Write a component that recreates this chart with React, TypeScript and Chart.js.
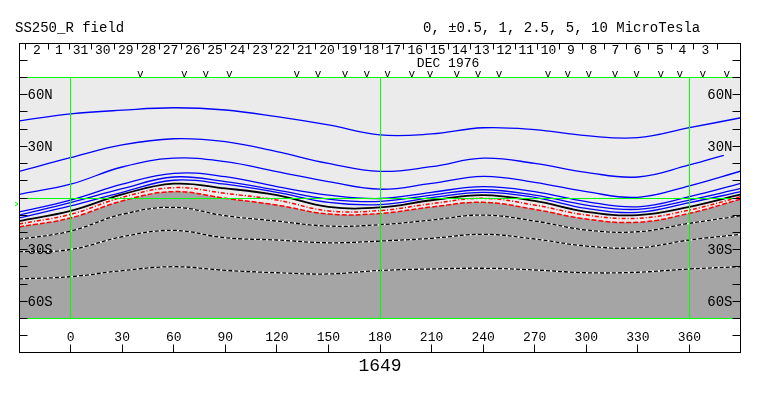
import React, { useEffect, useRef } from 'react';
import { Chart, registerables } from 'chart.js';

Chart.register(...registerables);

// Carrington longitude samples (deg)
const LONS = [-30, 0, 30, 60, 90, 120, 150, 180, 210, 240, 270, 300, 330, 360, 390];
const B2_LONS = [-30, 0, 30, 60, 90, 120, 150, 180, 210, 240, 270, 300, 330, 360, 380];

// Positive contours (blue), latitude in degrees
const B1 = [44.8, 48.8, 51.0, 52.4, 51.1, 47.2, 42.4, 36.6, 37.2, 40.8, 39.7, 36.2, 35.0, 40.8, 46.6];
const B2 = [15.5, 23.4, 30.8, 34.4, 32.7, 26.9, 20.1, 15.5, 18.2, 23.1, 20.1, 14.9, 12.2, 19.2, 24.8];
const B3 = [2.1, 8.0, 18.0, 23.1, 21.1, 15.3, 9.5, 5.1, 8.5, 12.6, 9.1, 3.7, 0.4, 7.1, 15.7];
const B4 = [-8.1, -1.2, 8.0, 14.3, 12.4, 6.6, 1.7, -0.3, 3.3, 6.6, 3.7, -2.1, -5.1, 0.8, 8.5];
const B5 = [-9.9, -2.7, 5.4, 12.2, 9.5, 4.6, -0.6, -2.0, 1.7, 4.8, 1.7, -4.1, -6.6, -1.2, 5.6];
const B6 = [-11.6, -4.6, 3.3, 10.3, 8.0, 3.3, -2.5, -3.8, 0.2, 3.3, 0.4, -6.0, -8.3, -2.7, 3.7];
// Neutral line (black)
const NEUTRAL = [-13.4, -7.5, 2.1, 8.3, 5.6, 1.7, -5.1, -5.5, -1.3, 1.7, -1.7, -8.0, -9.9, -5.1, 2.1];
// Weak negative contours (red)
const R1 = [-15.1, -9.5, 0.4, 6.0, 2.7, -1.2, -7.5, -7.3, -3.3, -0.2, -4.1, -9.9, -11.8, -7.0, 0.8];
const R2 = [-16.8, -11.6, -1.7, 3.7, -0.2, -4.1, -9.3, -9.0, -5.2, -2.5, -6.6, -12.2, -14.1, -8.9, -0.6];
// Stronger negative contours (black/white dashed)
const D1 = [-24.0, -19.2, -9.5, -5.4, -10.3, -13.4, -16.3, -15.5, -12.8, -9.9, -13.4, -18.6, -19.6, -14.7, -10.3];
const D2 = [-31.2, -29.9, -22.5, -18.8, -23.1, -24.4, -26.0, -25.0, -23.4, -21.1, -23.8, -27.9, -28.9, -24.4, -21.1];
const D3 = [-47.0, -45.7, -42.2, -39.9, -42.0, -43.4, -44.1, -42.1, -41.2, -40.8, -41.8, -43.4, -43.1, -41.2, -39.9];

// Axis ticks / labels
const LAT_TICKS = [-80, -70, -60, -50, -40, -30, -20, -10, 0, 10, 20, 30, 40, 50, 60, 70, 80];
const LAT_LABELS: [number, string][] = [[60, '60N'], [30, '30N'], [-30, '30S'], [-60, '60S']];
const LON_TICKS = [0, 30, 60, 90, 120, 150, 180, 210, 240, 270, 300, 330, 360];
const GREEN_LONS = [0, 180, 360];
const GREEN_LATS = [70, 0, -70];
const DAY_TICKS = [-26.3, -13.4, -0.8, 11.9, 25.0, 38.6, 51.4, 64.4, 77.3, 90.1, 103.5, 116.5, 129.3, 142.3, 155.6, 168.4,
  181.2, 193.6, 206.8, 219.8, 232.4, 245.6, 258.5, 271.2, 284.3, 297.3, 310.3, 323.1, 336.0, 349.1, 362.2, 375.8];
const DAY_LABELS = ['2', '1', '31', '30', '29', '28', '27', '26', '25', '24', '23', '22', '21', '20', '19', '18', '17',
  '16', '15', '14', '13', '12', '11', '10', '9', '8', '7', '6', '5', '4', '3'];
const OBS_MARKS = [40.5, 66.1, 78.7, 92.3, 131.6, 144.0, 159.7, 172.3, 184.4, 198.5, 209.1, 224.7, 237.0, 249.2,
  277.7, 289.3, 301.5, 316.7, 329.3, 343.4, 354.4, 367.8, 381.8];
const MONTH_LABEL = 'DEC 1976';
const MONTH_LON = 219.6;
const EARTH_LAT = -3.5;
const ROTATION = '1649';
const TITLE = 'SS250_R field';
const LEVELS = '0, \u00b10.5, 1, 2.5, 5, 10 MicroTesla';

const FONT = "'Liberation Mono', 'DejaVu Sans Mono', monospace";

const pts = (lons: number[], lats: number[]) => lons.map((x, i) => ({ x, y: lats[i] }));

export default function App() {
  const ref = useRef<HTMLCanvasElement>(null);

  useEffect(() => {
    const canvas = ref.current!;
    const line = (data: any, color: string, width: number, dash: number[], order: number) => ({
      data,
      borderColor: color,
      borderWidth: width,
      borderDash: dash,
      pointRadius: 0,
      fill: false,
      order,
    });

    const datasets: any[] = [
      {
        data: pts(LONS, R2),
        borderWidth: 0,
        borderColor: 'rgba(0,0,0,0)',
        backgroundColor: '#a5a5a5',
        fill: { value: -70 },
        pointRadius: 0,
        order: 100,
      },
      line(pts(LONS, B1), '#0000ff', 1.3, [], 10),
      line(pts(B2_LONS, B2), '#0000ff', 1.3, [], 10),
      line(pts(LONS, B3), '#0000ff', 1.3, [], 10),
      line(pts(LONS, B4), '#0000ff', 1.3, [], 10),
      line(pts(LONS, B5), '#0000ff', 1.3, [], 10),
      line(pts(LONS, B6), '#0000ff', 1.3, [], 10),
      line(pts(LONS, NEUTRAL), '#000000', 1.8, [], 5),
      line(pts(LONS, R1), '#ff0000', 1.5, [4, 2, 1, 2], 6),
      line(pts(LONS, R2), '#ff0000', 1.5, [5, 2], 6),
      line(pts(LONS, D1), '#ffffff', 1.3, [], 20),
      line(pts(LONS, D2), '#ffffff', 1.3, [], 20),
      line(pts(LONS, D3), '#ffffff', 1.3, [], 20),
      line(pts(LONS, D1), '#000000', 1.3, [4, 2], 8),
      line(pts(LONS, D2), '#000000', 1.3, [4, 2], 8),
      line(pts(LONS, D3), '#000000', 1.3, [4, 2], 8),
    ];

    const mapPlugin = {
      id: 'mapDecor',
      beforeDraw(chart: any) {
        const { ctx } = chart;
        const xs = chart.scales.x, ys = chart.scales.y;
        ctx.save();
        ctx.fillStyle = '#ebebeb';
        const x0 = xs.getPixelForValue(-30), x1 = xs.getPixelForValue(390);
        const y0 = ys.getPixelForValue(70), y1 = ys.getPixelForValue(-70);
        ctx.fillRect(x0, y0, x1 - x0, y1 - y0);
        ctx.restore();
      },
      afterDatasetsDraw(chart: any) {
        const { ctx } = chart;
        const xs = chart.scales.x, ys = chart.scales.y;
        ctx.save();
        ctx.strokeStyle = '#00ff00';
        ctx.lineWidth = 1;
        const xl = xs.getPixelForValue(-30), xr = xs.getPixelForValue(390);
        GREEN_LATS.forEach((lat) => {
          const y = Math.floor(ys.getPixelForValue(lat)) + 0.5;
          ctx.beginPath(); ctx.moveTo(xl, y); ctx.lineTo(xr, y); ctx.stroke();
        });
        const yt = ys.getPixelForValue(70), yb = ys.getPixelForValue(-70);
        GREEN_LONS.forEach((lon) => {
          const x = Math.floor(xs.getPixelForValue(lon)) + 0.5;
          ctx.beginPath(); ctx.moveTo(x, yt); ctx.lineTo(x, yb); ctx.stroke();
        });
        ctx.restore();
      },
      afterDraw(chart: any) {
        const { ctx } = chart;
        const xs = chart.scales.x, ys = chart.scales.y;
        const X = (v: number) => xs.getPixelForValue(v);
        const Y = (v: number) => ys.getPixelForValue(v);
        const L = Math.round(X(-30)) + 0.5, R = Math.round(X(390)) - 0.5;
        const T = Math.round(Y(90)) + 0.5, B = Math.round(Y(-90)) - 0.5;
        ctx.save();
        ctx.strokeStyle = '#000';
        ctx.lineWidth = 1;
        ctx.strokeRect(L, T, R - L, B - T);
        // latitude ticks
        LAT_TICKS.forEach((lat) => {
          const y = Math.floor(Y(lat)) + 0.5;
          ctx.beginPath();
          ctx.moveTo(L, y); ctx.lineTo(L + 8, y);
          ctx.moveTo(R, y); ctx.lineTo(R - 8, y);
          ctx.stroke();
        });
        // longitude ticks
        LON_TICKS.forEach((lon) => {
          const x = Math.floor(X(lon)) + 0.5;
          ctx.beginPath(); ctx.moveTo(x, B); ctx.lineTo(x, B - 8); ctx.stroke();
        });
        // day ticks
        DAY_TICKS.forEach((lon) => {
          const x = Math.round(X(lon)) + 0.5;
          ctx.beginPath(); ctx.moveTo(x, T); ctx.lineTo(x, T + 6); ctx.stroke();
        });
        ctx.fillStyle = '#000';
        // latitude labels
        ctx.font = `14px ${FONT}`;
        LAT_LABELS.forEach(([lat, s]) => {
          const y = Y(lat) + 4.5;
          ctx.textAlign = 'left'; ctx.fillText(s, L + 8, y);
          ctx.textAlign = 'right'; ctx.fillText(s, R - 8, y);
        });
        // longitude labels
        ctx.font = `13px ${FONT}`;
        ctx.textAlign = 'center';
        LON_TICKS.forEach((lon) => ctx.fillText(String(lon), X(lon), B - 11.5));
        // day labels
        DAY_LABELS.forEach((s, i) => {
          const xm = (X(DAY_TICKS[i]) + X(DAY_TICKS[i + 1])) / 2;
          ctx.fillText(s, xm + 0.5, T + 10.5);
        });
        ctx.fillText(MONTH_LABEL, X(MONTH_LON), T + 23.5);
        // observation marks
        ctx.font = `11px ${FONT}`;
        OBS_MARKS.forEach((lon) => ctx.fillText('v', X(lon), Y(70) - 0.5));
        // rotation number
        ctx.font = `18px ${FONT}`;
        ctx.fillText(ROTATION, X(180), B + 18);
        // header
        ctx.font = `14px ${FONT}`;
        ctx.textAlign = 'left';
        ctx.fillText(TITLE, 15, 32);
        ctx.fillText(LEVELS, 423, 32);
        // earth latitude marker
        const ye = Y(EARTH_LAT);
        ctx.strokeStyle = '#00ff00';
        ctx.beginPath();
        ctx.moveTo(L - 4.5, ye - 2); ctx.lineTo(L - 1.5, ye); ctx.lineTo(L - 4.5, ye + 2);
        ctx.stroke();
        ctx.restore();
      },
    };

    const chart = new Chart(canvas, {
      type: 'line',
      data: { datasets },
      options: {
        animation: false,
        responsive: false,
        devicePixelRatio: 1,
        layout: { padding: { left: 19, right: 22, top: 43, bottom: 43 } },
        scales: {
          x: { type: 'linear', min: -30, max: 390, display: false },
          y: { type: 'linear', min: -90, max: 90, display: false },
        },
        plugins: { legend: { display: false }, tooltip: { enabled: false } },
        elements: { line: { tension: 0.4 } },
      },
      plugins: [mapPlugin],
    } as any);

    return () => chart.destroy();
  }, []);

  return (
    <div style={{ position: 'fixed', left: 0, top: 0, width: 763, height: 396, background: '#fff' }}>
      <canvas ref={ref} width={763} height={396} style={{ width: 763, height: 396, display: 'block' }} />
    </div>
  );
}
